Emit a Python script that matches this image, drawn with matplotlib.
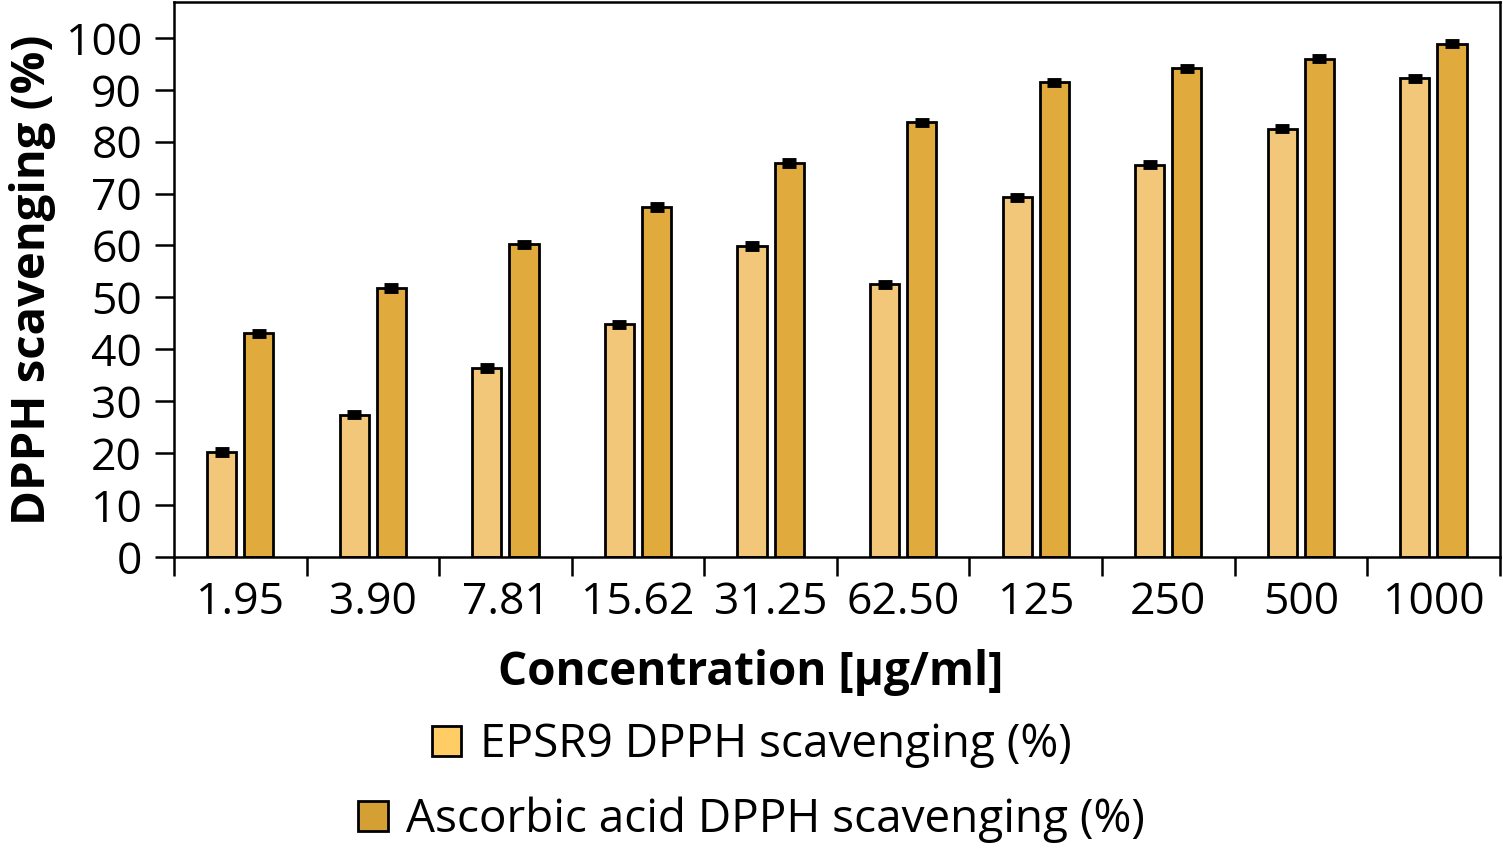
import numpy as np
import matplotlib
matplotlib.use('Agg')
import matplotlib.pyplot as plt
from matplotlib.patches import Patch

# Concentrations and scavenging values
concentrations = ['1.95', '3.90', '7.81', '15.62', '31.25', '62.50', '125', '250', '500', '1000']
epsr9 = [20.2, 27.4, 36.4, 44.8, 59.9, 52.5, 69.3, 75.6, 82.5, 92.2]
ascorbic = [43.1, 51.8, 60.2, 67.4, 75.9, 83.7, 91.4, 94.1, 96.0, 98.9]
epsr9_err = [0.5] * 10
ascorbic_err = [0.5] * 10

light = '#F2C77A'
dark = '#E0AA3C'

plt.rcParams['font.family'] = ['Open Sans', 'DejaVu Sans']

fig = plt.figure(figsize=(15.03, 8.49), dpi=100)
ax = fig.add_axes([0.1158, 0.344, 0.882, 0.6536])

x = np.arange(len(concentrations))
w = 0.22
off = 0.14
ax.bar(x - off, epsr9, w, color=light, edgecolor='black', linewidth=2, zorder=2)
ax.bar(x + off, ascorbic, w, color=dark, edgecolor='black', linewidth=2, zorder=2)
ax.errorbar(x - off, epsr9, yerr=epsr9_err, fmt='none', ecolor='black',
            elinewidth=2, capsize=5, capthick=3.5, zorder=3)
ax.errorbar(x + off, ascorbic, yerr=ascorbic_err, fmt='none', ecolor='black',
            elinewidth=2, capsize=5, capthick=3.5, zorder=3)

ax.set_xlim(-0.5, len(concentrations) - 0.5)
ax.set_ylim(0, 106.9)
ax.set_yticks(range(0, 101, 10))
ax.set_xticks(x)
ax.set_xticklabels(concentrations)
ax.set_xticks(np.arange(-0.5, len(concentrations)), minor=True)
ax.tick_params(axis='x', which='major', length=0, pad=17, labelsize=32)
ax.tick_params(axis='x', which='minor', length=14, width=1.8, direction='out')
ax.tick_params(axis='y', length=14, width=1.8, pad=9, labelsize=32)
for s in ax.spines.values():
    s.set_linewidth(1.8)

ax.set_ylabel('DPPH scavenging (%)', fontsize=34, fontweight='bold', labelpad=7)
ax.set_xlabel('Concentration [μg/ml]', fontsize=33, fontweight='bold')
# x label sits centred on the figure, not on the axes
ax.xaxis.set_label_coords(0.435, -0.165)

h1 = Patch(facecolor='#FFCC66', edgecolor='black', linewidth=2,
           label='EPSR9 DPPH scavenging (%)')
h2 = Patch(facecolor='#D4A033', edgecolor='black', linewidth=2,
           label='Ascorbic acid DPPH scavenging (%)')
for h, yy in [(h1, 1 - 745 / 849), (h2, 1 - 820 / 849)]:
    fig.legend(handles=[h], loc='center', bbox_to_anchor=(0.5, yy), frameon=False,
               fontsize=33, handlelength=0.65, handleheight=0.65, handletextpad=0.4,
               borderpad=0, borderaxespad=0)

fig.savefig('out.png', dpi=100)
